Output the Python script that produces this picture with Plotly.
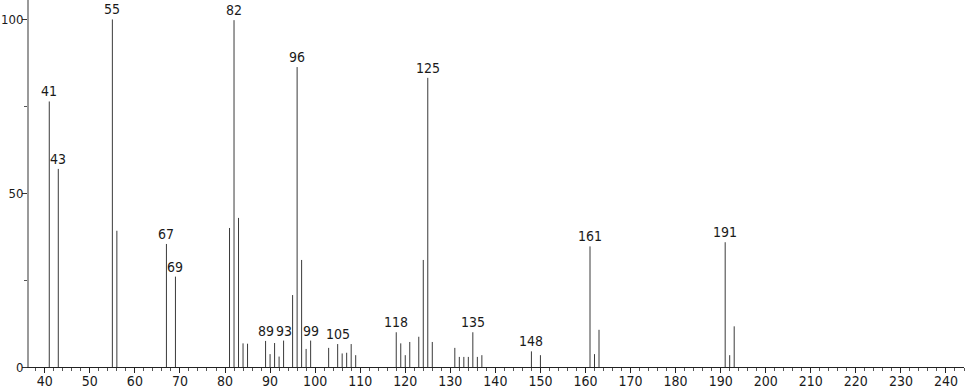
import plotly.graph_objects as go

# m/z values and relative intensities
mz = [41, 43, 55, 56, 67, 69, 81, 82, 83, 84, 85, 89, 90, 91, 92, 93, 95, 96, 97, 98, 99,
      103, 105, 106, 107, 108, 109, 118, 119, 120, 121, 123, 124, 125, 126,
      131, 132, 133, 134, 135, 136, 137, 148, 150, 161, 162, 163, 191, 192, 193]
intensity = [76.4, 57.0, 100.0, 39.2, 35.4, 26.0, 40.0, 99.8, 42.9, 6.8, 6.7, 7.5, 3.7, 6.9, 3.0, 7.6, 20.7, 86.3, 30.8, 5.2, 7.6,
             5.5, 6.6, 3.9, 4.1, 6.6, 3.4, 10.0, 6.8, 3.4, 7.2, 8.7, 30.8, 83.2, 7.2,
             5.5, 2.9, 2.9, 2.9, 10.0, 2.9, 3.4, 4.5, 3.4, 34.7, 3.7, 10.7, 35.9, 3.4, 11.7]
labeled = [41, 43, 55, 67, 69, 82, 89, 93, 96, 99, 105, 118, 125, 135, 148, 161, 191]

x_ticks = list(range(40, 241, 10))
y_ticks = [0, 50, 100]

FONT = "DejaVu Sans Condensed, Roboto Condensed, Roboto, sans-serif"

xs, ys = [], []
for m, v in zip(mz, intensity):
    xs += [m, m, None]
    ys += [0, v, None]

fig = go.Figure()
fig.add_trace(go.Scatter(x=xs, y=ys, mode="lines",
                         line=dict(color="#3a3a3a", width=1),
                         hoverinfo="skip", showlegend=False))

for m, v in zip(mz, intensity):
    if m in labeled:
        fig.add_annotation(x=m, y=v, text=str(m), showarrow=False,
                           yanchor="bottom", xanchor="center", yshift=0,
                           font=dict(family=FONT, size=14, color="#1a1a1a"))

fig.update_layout(
    width=966, height=389,
    margin=dict(l=29, r=2, t=0, b=22),
    paper_bgcolor="white", plot_bgcolor="white",
    showlegend=False,
    font=dict(family=FONT, size=14, color="#1a1a1a"),
)
fig.update_xaxes(
    range=[36.5, 244], tickvals=x_ticks, ticktext=[str(t) for t in x_ticks],
    automargin=False,
    showgrid=False, zeroline=False,
    showline=True, linecolor="#222", linewidth=1,
    ticks="outside", ticklen=5, tickcolor="#222", tickwidth=1,
    ticklabelstandoff=-4,
    minor=dict(dtick=2, tick0=0, ticks="outside", ticklen=3, tickcolor="#555", tickwidth=1),
    tickfont=dict(family=FONT, size=14, color="#1a1a1a"),
)
fig.update_yaxes(
    range=[0, 105.6], tickvals=y_ticks, ticktext=[str(t) for t in y_ticks],
    automargin=False,
    showgrid=False, zeroline=False,
    showline=True, linecolor="#9a9a9a", linewidth=2,
    ticks="outside", ticklen=5, tickcolor="#333", tickwidth=1,
    ticklabelstandoff=-4,
    minor=dict(tickvals=[25, 75], ticks="outside", ticklen=3, tickcolor="#555", tickwidth=1),
    tickfont=dict(family=FONT, size=13, color="#1a1a1a"),
)

fig.write_html("out.html")
